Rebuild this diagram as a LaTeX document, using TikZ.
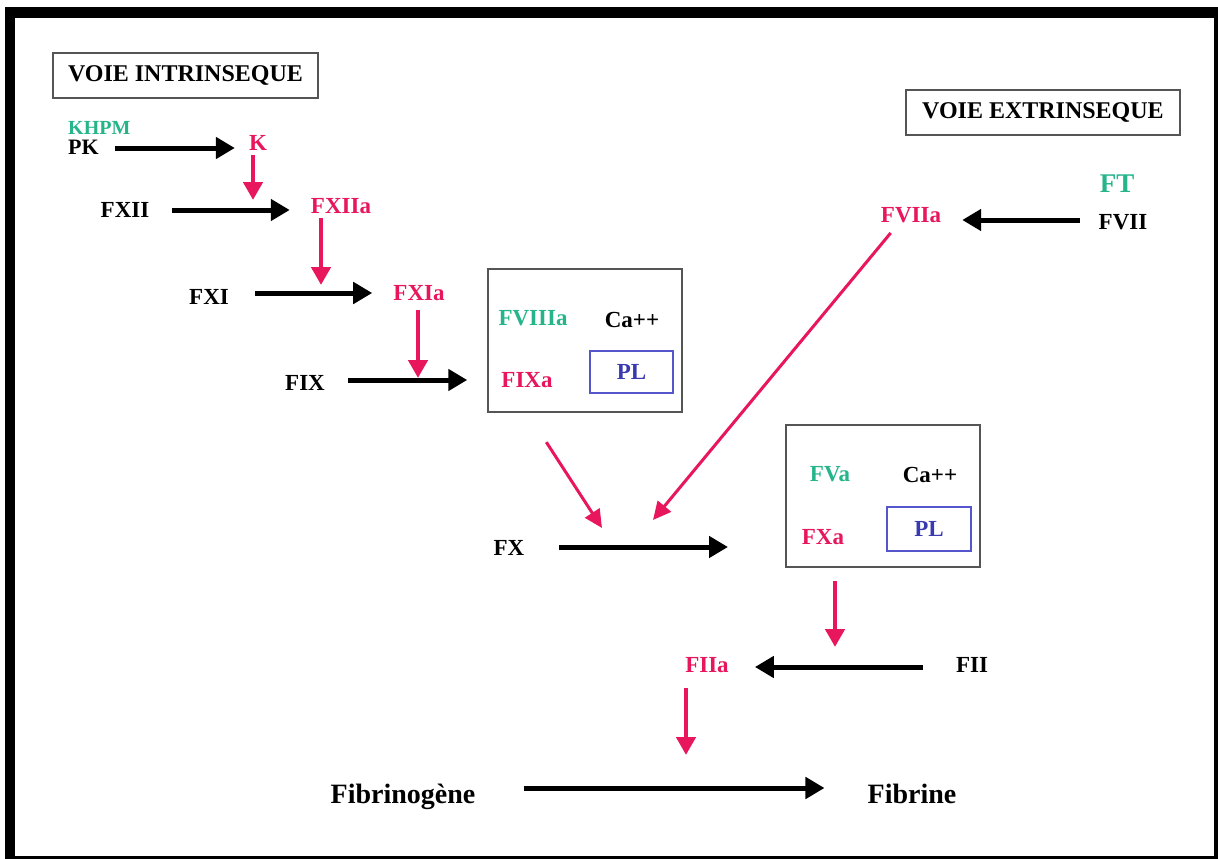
\documentclass[tikz,border=0pt]{standalone}
\usepackage{fontspec}
\setmainfont{Liberation Serif}
\usetikzlibrary{arrows.meta,calc}
\definecolor{pinkc}{HTML}{E8175D}
\definecolor{tealc}{HTML}{26B58A}
\definecolor{bluec}{HTML}{3A3AB0}
\definecolor{blueb}{HTML}{5555CC}
\definecolor{grayb}{HTML}{555555}
\begin{document}
\begin{tikzpicture}[x=1pt,y=-1pt,
  lbl/.style={inner sep=0pt, font=\bfseries\fontsize{23}{27}\selectfont},
  big/.style={inner sep=0pt, font=\bfseries\fontsize{28}{32}\selectfont},
  pk/.style={text=pinkc},
  tl/.style={text=tealc},
  titlebox/.style={draw=grayb, line width=1.5pt, inner sep=0pt, font=\bfseries\fontsize{24}{28}\selectfont},
  complexbox/.style={draw=grayb, line width=1.5pt, inner sep=0pt},
  plbox/.style={draw=blueb, line width=1.2pt, inner sep=0pt, text=bluec, font=\bfseries\fontsize{23}{27}\selectfont},
  blk/.style={line width=5pt, -{Triangle[length=19pt,width=21pt]}},
  pnk/.style={draw=pinkc, line width=4.5pt, -{Triangle[length=18pt,width=19pt]}},
  pnkd/.style={draw=pinkc, line width=3pt, -{Triangle[length=18pt,width=17pt]}}
]
\useasboundingbox (0,0) rectangle (1218,859);
\fill[white] (0,0) rectangle (1218,859);
\fill[black] (5,7) rectangle (1218,859);
\fill[white] (15,18) rectangle (1214,856);

% title boxes
\node[titlebox, minimum width=265pt, minimum height=45pt] (vi) at (185.5,75.5) {VOIE INTRINSEQUE};
\node[titlebox, minimum width=274pt, minimum height=45pt] (ve) at (1043,112.5) {VOIE EXTRINSEQUE};

% intrinsic
\node[lbl, tl, anchor=west, font=\bfseries\fontsize{20}{24}\selectfont] (KHPM) at (68,128) {KHPM};
\node[lbl, anchor=west, font=\bfseries\fontsize{22}{26}\selectfont] (PK) at (68,147) {PK};
\node[lbl, pk] (K) at (258,143) {K};
\node[lbl] (FXII) at (125,210) {FXII};
\node[lbl, pk] (FXIIa) at (341,206) {FXIIa};
\node[lbl] (FXI) at (209,297) {FXI};
\node[lbl, pk] (FXIa) at (419,293) {FXIa};
\node[lbl] (FIX) at (305,383) {FIX};

% tenase complex
\node[complexbox, minimum width=194pt, minimum height=143pt] (box1) at (585,340.5) {};
\node[lbl, tl] (FVIIIa) at (533,318) {FVIIIa};
\node[lbl] (Ca1) at (632,320) {Ca++};
\node[lbl, pk] (FIXa) at (527,380) {FIXa};
\node[plbox, minimum width=83pt, minimum height=42pt] (PL1) at (631.5,372) {PL};

% extrinsic
\node[lbl, pk] (FVIIa) at (911,215) {FVIIa};
\node[lbl] (FVII) at (1123,222) {FVII};
\node[lbl, tl, font=\bfseries\fontsize{27}{30}\selectfont] (FT) at (1117,184) {FT};

% common
\node[lbl] (FX) at (509,548) {FX};
\node[complexbox, minimum width=194pt, minimum height=142pt] (box2) at (883,496) {};
\node[lbl, tl] (FVa) at (830,474) {FVa};
\node[lbl] (Ca2) at (930,475) {Ca++};
\node[lbl, pk] (FXa) at (823,537) {FXa};
\node[plbox, minimum width=84pt, minimum height=44pt] (PL2) at (929,529) {PL};
\node[lbl] (FII) at (972,665) {FII};
\node[lbl, pk] (FIIa) at (707,665) {FIIa};
\node[big, anchor=base] (Fbg) at (403,803) {Fibrinogène};
\node[big, anchor=base] (Fbn) at (912,803) {Fibrine};

% black arrows
\draw[blk, shorten <=16pt, shorten >=14pt] ($(PK.east)+(0,1)$) -- ($(PK.east -| K.west)+(0,1)$);
\draw[blk, shorten <=23pt, shorten >=21pt] (FXII.east) -- (FXII.east -| FXIIa.west);
\draw[blk, shorten <=26pt, shorten >=21pt] ($(FXI.east)+(0,-4)$) -- ($(FXI.east -| FXIa.west)+(0,-4)$);
\draw[blk, shorten <=23pt, shorten >=20pt] ($(FIX.east)+(0,-3)$) -- ($(FIX.east -| box1.west)+(0,-3)$);
\draw[blk, shorten <=19pt, shorten >=21pt] ($(FVII.west)+(0,-2)$) -- ($(FVII.west -| FVIIa.east)+(0,-2)$);
\coordinate (fxend) at (728,547);
\draw[blk, shorten <=34pt] (FX.east |- fxend) -- (fxend);
\draw[blk, shorten <=33pt, shorten >=26pt] ($(FII.west)+(0,2)$) -- ($(FII.west -| FIIa.east)+(0,2)$);
\draw[blk, shorten <=48pt, shorten >=43pt] ($(Fbg.base east)+(0,-15)$) -- ($(Fbg.base east -| Fbn.base west)+(0,-15)$);

% pink arrows
\coordinate (t1) at (253,200);
\draw[pnk, shorten <=4pt] (K.south -| t1) -- (t1);
\coordinate (t2) at (321,285);
\draw[pnk, shorten <=4pt] (FXIIa.south -| t2) -- (t2);
\coordinate (t3) at (418,378);
\draw[pnk, shorten <=9pt] (FXIa.south -| t3) -- (t3);
\coordinate (t4) at (835,647);
\draw[pnk, shorten <=13pt] (box2.south -| t4) -- (t4);
\coordinate (t5) at (686,755);
\draw[pnk, shorten <=15pt] (FIIa.south -| t5) -- (t5);
\coordinate (t6) at (602,528);
\draw[pnkd, shorten <=35pt] ($(box1.south west)+(40,0)$) -- (t6);
\coordinate (t7) at (653,520);
\draw[pnkd, shorten <=13pt] ($(FVIIa.south)+(-12,0)$) -- (t7);
\end{tikzpicture}
\end{document}
